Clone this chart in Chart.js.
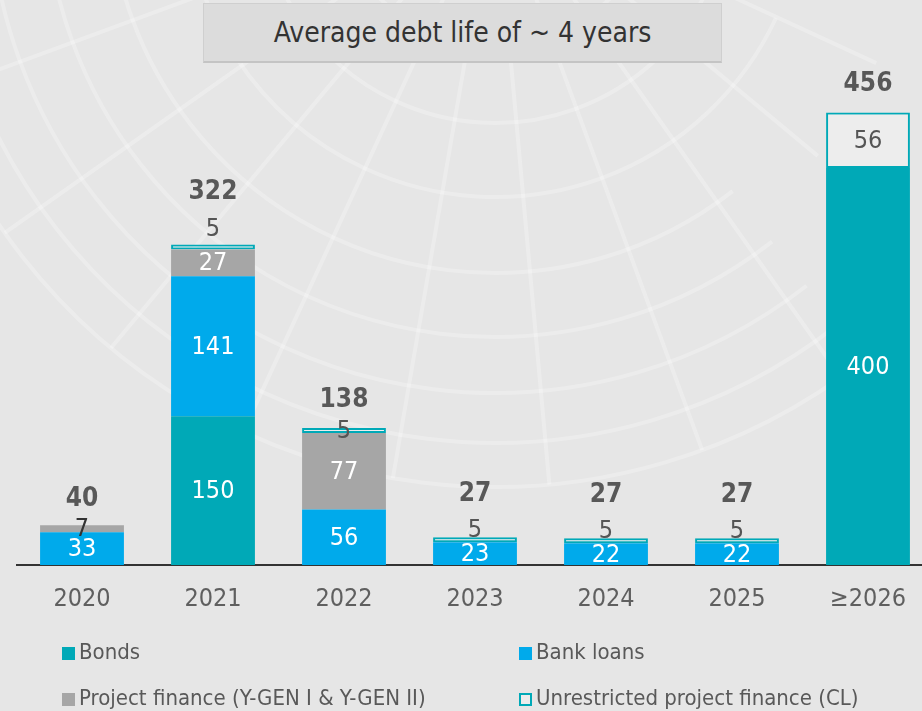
<!DOCTYPE html>
<html>
<head>
<meta charset="utf-8">
<script src="https://cdn.jsdelivr.net/npm/chart.js@4/dist/chart.umd.min.js"></script>
<style>
  html, body { margin: 0; padding: 0; background: #e6e6e6; overflow: hidden; width: 922px; height: 711px; }
  #wrap { position: relative; width: 922px; height: 711px; overflow: hidden; }
  canvas { position: absolute; left: 0; top: 0; }
  .title {
    position: absolute; left: 203px; top: 3px; width: 517px; height: 57px;
    background: #dcdcdc; border: 1px solid #cfcfcf; border-bottom: 2px solid #c4c4c4;
    font: 28px 'Liberation Sans Narrow', 'DejaVu Sans Condensed', Roboto, sans-serif;
    color: #333; text-align: center; line-height: 57px;
  }
  .leg { position: absolute; font: 22px 'Liberation Sans Narrow', 'DejaVu Sans Condensed', Roboto, sans-serif; color: #595959; white-space: nowrap; }
  .leg i { display: inline-block; width: 13px; height: 13px; margin-right: 4px; vertical-align: -1px; box-sizing: border-box; }
</style>
</head>
<body>
<div id="wrap">
  <canvas id="debtChart" width="950" height="711"></canvas>
  <div class="title">Average debt life of ~ 4 years</div>
  <div id="legend"></div>
</div>
<script>
// ---- data ----
const years = ['2020', '2021', '2022', '2023', '2024', '2025', '≥2026'];
const bonds = [null, 150, null, null, null, null, 400];
const bankLoans = [33, 141, 56, 23, 22, 22, null];
const projectFinance = [7, 27, 77, null, null, null, null];
const unrestricted = [null, 5, 5, 5, 5, 5, 56];
const totals = [40, 322, 138, 27, 27, 27, 456];

const seriesNames = ['Bonds', 'Bank loans', 'Project finance (Y-GEN I & Y-GEN II)', 'Unrestricted project finance (CL)'];

// ---- style ----
const FONT = "'Liberation Sans Narrow', 'DejaVu Sans Condensed', Roboto, sans-serif";
const TEAL = '#00a9b7';
const BLUE = '#00aaeb';
const GREY = '#a6a6a6';
const BG = '#e6e6e6';

// label nudges for the thin top segments and the totals (px)
const smallLabelShift = [0, -18, 0, -10, -10, -10, 0];
const totalShift = [-26, -52, -28, -43, -43, -43, -28];

// faint dome pattern behind the chart
const bgPattern = {
  id: 'bgPattern',
  beforeDraw(chart) {
    const ctx = chart.ctx;
    ctx.save();
    ctx.fillStyle = BG;
    ctx.fillRect(0, 0, chart.width, chart.height);
    const cx = 495, cy = -113;
    const deg = Math.PI / 180;
    ctx.strokeStyle = 'rgba(255,255,255,0.25)';
    ctx.lineWidth = 4;
    const radii = [160, 236, 310, 386, 450, 506, 556, 600];
    radii.forEach(r => {
      const start = r > 340 ? 52 : 25;
      ctx.beginPath();
      ctx.arc(cx, cy, r, start * deg, 178 * deg);
      ctx.stroke();
    });
    for (let a = 9.8; a < 180; a += 15) {
      const t = a * deg;
      const outer = a < 50 ? 420 : 600;
      ctx.beginPath();
      ctx.moveTo(cx + 120 * Math.cos(t), cy + 120 * Math.sin(t));
      ctx.lineTo(cx + outer * Math.cos(t), cy + outer * Math.sin(t));
      ctx.stroke();
    }
    ctx.restore();
  }
};

// values inside segments + totals above
const barLabels = {
  id: 'barLabels',
  afterDatasetsDraw(chart) {
    const ctx = chart.ctx;
    ctx.save();
    ctx.textAlign = 'center';
    ctx.textBaseline = 'middle';
    chart.data.datasets.forEach((ds, di) => {
      chart.getDatasetMeta(di).data.forEach((el, i) => {
        const v = ds.data[i];
        if (v == null) return;
        const h = el.base - el.y;
        let y = (el.y + el.base) / 2;
        let color = '#fff';
        if (di === 3) {
          color = '#555';
          if (h < 20) y += smallLabelShift[i];
        } else if (h < 14) {
          color = '#333';
        }
        ctx.font = '25px ' + FONT;
        ctx.fillStyle = color;
        ctx.fillText(String(v), el.x, y + 1);
      });
    });
    const meta = chart.getDatasetMeta(0);
    const yScale = chart.scales.y;
    years.forEach((_, i) => {
      let top = yScale.getPixelForValue(0);
      chart.data.datasets.forEach((ds, di) => {
        const el = chart.getDatasetMeta(di).data[i];
        if (ds.data[i] != null) top = Math.min(top, el.y);
      });
      ctx.font = 'bold 26px ' + FONT;
      ctx.fillStyle = '#585858';
      ctx.fillText(String(totals[i]), meta.data[i].x, top + totalShift[i]);
    });
    ctx.restore();
  }
};

const ctxDebt = document.getElementById('debtChart').getContext('2d');
const debtChart = new Chart(ctxDebt, {
  type: 'bar',
  data: {
    labels: years,
    datasets: [
      { label: seriesNames[0], data: bonds, backgroundColor: TEAL, borderWidth: 0 },
      { label: seriesNames[1], data: bankLoans, backgroundColor: BLUE, borderWidth: 0 },
      { label: seriesNames[2], data: projectFinance, backgroundColor: GREY, borderWidth: 0 },
      { label: seriesNames[3], data: unrestricted, backgroundColor: 'rgba(255,255,255,0.3)',
        borderColor: TEAL, borderWidth: 2, borderSkipped: false }
    ]
  },
  options: {
    responsive: false,
    animation: false,
    barPercentage: 0.64,
    categoryPercentage: 1,
    layout: { padding: { left: 16.5, right: 16.5, top: 68.75, bottom: 0 } },
    plugins: { legend: { display: false }, tooltip: { enabled: false } },
    scales: {
      x: {
        stacked: true,
        grid: { display: false },
        border: { display: true, color: '#333', width: 2 },
        ticks: { color: '#5f5f5f', padding: 11, font: { family: FONT, size: 25 } },
        afterFit(scale) { scale.height = 146; }
      },
      y: { stacked: true, display: false, min: 0, max: 500 }
    }
  },
  plugins: [bgPattern, barLabels]
});

// legend, two columns
const legendSpots = [[62, 639], [519, 639], [62, 685], [519, 685]];
const legendMarks = [
  'background:' + TEAL,
  'background:' + BLUE,
  'background:' + GREY,
  'border:2px solid ' + TEAL + ';background:#ececec'
];
document.getElementById('legend').innerHTML = seriesNames.map((n, i) =>
  '<div class="leg" style="left:' + legendSpots[i][0] + 'px;top:' + legendSpots[i][1] + 'px">' +
  '<i style="' + legendMarks[i] + '"></i>' + n + '</div>').join('');
</script>
</body>
</html>
